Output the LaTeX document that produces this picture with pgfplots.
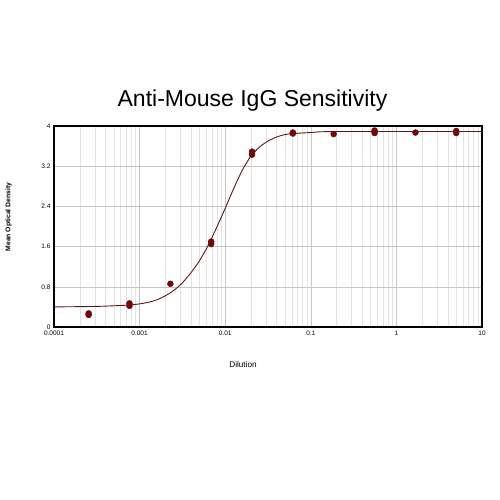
\documentclass[border=0pt]{standalone}
\usepackage{pgfplots}
\pgfplotsset{compat=1.18}
\usepackage{fontspec}
\setmainfont{Liberation Sans}
\definecolor{ptred}{RGB}{115,8,8}
\definecolor{curvered}{RGB}{95,22,22}
\begin{document}
\begin{tikzpicture}
\useasboundingbox (-54pt,-173pt) rectangle (446pt,327pt);
\begin{axis}[
  at={(0pt,0pt)}, anchor=south west,
  scale only axis, width=428pt, height=201pt,
  xmode=log, xmin=1e-4, xmax=10, ymin=0, ymax=4,
  xtick={1e-4,1e-3,1e-2,1e-1,1,10},
  xticklabels={0.0001,0.001,0.01,0.1,1,10},
  ytick={0,0.8,1.6,2.4,3.2,4},
  yticklabels={0,0.8,1.6,2.4,3.2,4},
  grid=both,
  major grid style={gray!45, line width=0.5pt},
  minor grid style={gray!22, line width=0.5pt},
  major tick length=0pt, minor tick length=0pt,
  axis line style={line width=1.2pt},
  ticklabel style={font=\fontsize{6.5}{7}\selectfont},
  title={Anti-Mouse IgG Sensitivity},
  title style={font=\fontsize{23}{26}\selectfont, anchor=base,
    at={(axis description cs:0.4638,1.065)}},
  xlabel={Dilution},
  xlabel style={font=\fontsize{8.2}{9}\selectfont, anchor=center,
    at={(axis description cs:0.4416,-0.189)}},
  ylabel={Mean Optical Density},
  ylabel style={font=\bfseries\fontsize{6.8}{8}\selectfont, anchor=center,
    at={(axis description cs:-0.106,0.547)}, rotate=0},
]
% fitted curve
\addplot[curvered, line width=0.9pt, smooth] coordinates {
(1e-4,0.40) (3.162e-4,0.41) (6.310e-4,0.43) (7.943e-4,0.44)
(1e-3,0.46) (1.259e-3,0.49) (1.585e-3,0.54) (1.995e-3,0.62) (2.512e-3,0.73)
(3.162e-3,0.88) (3.981e-3,1.08) (5.012e-3,1.32) (6.310e-3,1.62) (7.943e-3,1.98)
(0.01,2.36) (0.01259,2.76) (0.01585,3.12) (0.01995,3.40) (0.02512,3.58)
(0.03162,3.70) (0.03981,3.78) (0.05012,3.83) (0.06310,3.85) (0.1,3.87)
(0.1995,3.89) (10,3.89)};
% measured points
\addplot[only marks, mark=*, mark size=3pt, ptred] coordinates {
(2.54e-4,0.24) (2.54e-4,0.27)
(7.62e-4,0.42) (7.62e-4,0.47)
(2.29e-3,0.86)
(6.86e-3,1.65) (6.86e-3,1.70)
(0.0206,3.43) (0.0206,3.49)
(0.0617,3.85) (0.0617,3.87)
(0.185,3.84)
(0.556,3.86) (0.556,3.91)
(1.67,3.87)
(5,3.86) (5,3.90)};
\end{axis}
\end{tikzpicture}
\end{document}
